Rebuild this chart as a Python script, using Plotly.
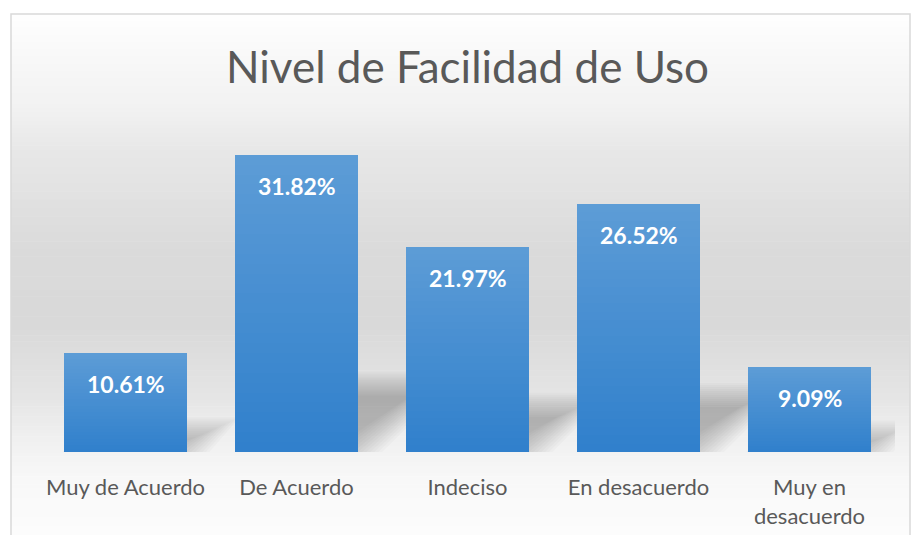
import plotly.graph_objects as go

# Datos del gráfico
categorias = ["Muy de Acuerdo", "De Acuerdo", "Indeciso", "En desacuerdo", "Muy en<br>desacuerdo"]
porcentajes = [10.61, 31.82, 21.97, 26.52, 9.09]
etiquetas = ["10.61%", "31.82%", "21.97%", "26.52%", "9.09%"]

FONT = "Lato, 'Noto Sans', sans-serif"
N_SEG = 30  # segmentos para simular el degradado de cada barra
ANCHO = 0.72
posiciones = list(range(len(categorias)))


def mezcla(c1, c2, t):
    a = [int(c1[i:i + 2], 16) for i in (1, 3, 5)]
    b = [int(c2[i:i + 2], 16) for i in (1, 3, 5)]
    return "rgb(%d,%d,%d)" % tuple(round(a[k] + (b[k] - a[k]) * t) for k in range(3))


fig = go.Figure()

# barras con degradado: azul oscuro abajo, claro arriba
for i in range(N_SEG):
    t = i / (N_SEG - 1)
    fig.add_trace(go.Bar(
        x=posiciones,
        y=[v / N_SEG for v in porcentajes],
        marker=dict(color=mezcla("#3180cc", "#5c9cd6", t), line=dict(width=0)),
        width=ANCHO,
        hoverinfo="skip",
        showlegend=False,
    ))

# etiquetas de datos
for p, v, txt in zip(posiciones, porcentajes, etiquetas):
    fig.add_annotation(x=p, y=v, text=txt, showarrow=False, yanchor="middle", yshift=-31,
                       font=dict(family=FONT, size=23, color="white", weight="bold"))

# fondo con degradado (franjas horizontales en coordenadas del papel)
paradas = [(14, "#fefefe"), (100, "#f3f3f3"), (150, "#e8e8e8"), (250, "#dadada"),
           (330, "#d9d9d9"), (400, "#e6e6e6"), (440, "#f0f0f0"), (480, "#f8f8f8"), (536, "#fcfcfc")]
TOP, BASE, L, R = 125, 452, 40, 895
H, W = BASE - TOP, R - L
shapes = []
for (p0, c0), (p1, c1) in zip(paradas[:-1], paradas[1:]):
    pasos = 12
    for k in range(pasos):
        a = p0 + (p1 - p0) * k / pasos
        b = p0 + (p1 - p0) * (k + 1) / pasos
        shapes.append(dict(type="rect", xref="paper", yref="paper", layer="below",
                           x0=(11 - L) / W, x1=(910 - L) / W,
                           y0=(BASE - b) / H, y1=(BASE - a + 0.5) / H,
                           fillcolor=mezcla(c0, c1, (k + 0.5) / pasos), line=dict(width=0)))

# sombras en perspectiva detrás de las barras (difuminadas con varias capas)
px_x = W / len(categorias)
px_y = H / 35
for p, v in zip(posiciones, porcentajes):
    hs = 0.23 * v
    desp = 1.17 * hs * px_y / px_x
    for d in range(-12, 14, 2):
        dx, dy = d / px_x, d / px_y
        xl, xr = p - ANCHO / 2 - dx, p + ANCHO / 2 + dx
        y1 = hs + dy
        path = "M%f,%f L%f,%f L%f,%f L%f,%f Z" % (
            xl, -dy, xr, -dy, xr + desp * y1 / hs, y1, xl + desp * y1 / hs, y1)
        shapes.append(dict(type="path", xref="x", yref="y", layer="below", path=path,
                           fillcolor="rgba(0,0,0,0.02)", line=dict(width=0)))

# borde del gráfico
shapes.append(dict(type="rect", xref="paper", yref="paper", layer="above",
                   x0=(11 - L) / W, x1=(910 - L) / W,
                   y0=(BASE - 540) / H, y1=(BASE - 14) / H,
                   fillcolor="rgba(0,0,0,0)", line=dict(color="#d9d9d9", width=1.5)))

fig.update_layout(
    width=913, height=535,
    margin=dict(l=L, r=913 - R, t=TOP, b=535 - BASE),
    paper_bgcolor="white",
    plot_bgcolor="rgba(0,0,0,0)",
    barmode="stack",
    shapes=shapes,
    title=dict(text="Nivel de Facilidad de Uso", xref="paper", x=0.5, xanchor="center",
               yref="container", y=1 - 68 / 535, yanchor="middle",
               font=dict(family=FONT, size=44, color="#595959")),
    xaxis=dict(range=[-0.5, 4.5], tickvals=posiciones, ticktext=categorias, automargin=False,
               showgrid=False, showline=False, zeroline=False, ticks="", ticklabelstandoff=20,
               tickfont=dict(family=FONT, size=22, color="#595959")),
    yaxis=dict(range=[0, 35], visible=False, showgrid=False, automargin=False),
)

fig.write_html("out.html", config={"displayModeBar": False},
               post_script="document.body.style.margin='0';")
